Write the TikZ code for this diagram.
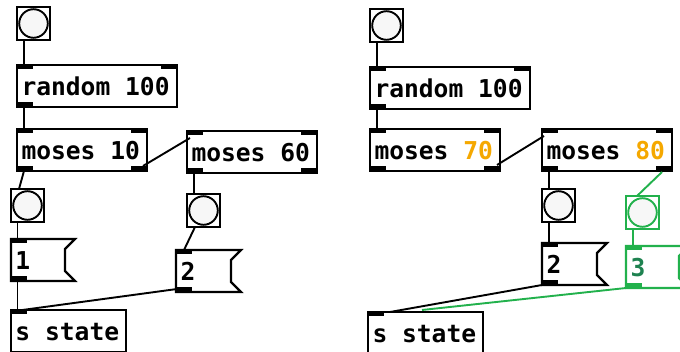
\documentclass[tikz,border=0pt]{standalone}
\usepackage{fontspec}
\newfontfamily\pdfont{DejaVu Sans Mono}
\usetikzlibrary{calc}
\definecolor{pdgreen}{RGB}{34,177,76}
\definecolor{pdorange}{RGB}{245,168,0}
\definecolor{pdteal}{RGB}{30,130,80}
\newcommand\pdsp{\phantom{0}}
\newcommand\pdin[2][black]{\fill[#1] (#2.north west) rectangle ++(16,4.5);}
\newcommand\pdinr[2][black]{\fill[#1] (#2.north east) rectangle ++(-16,4.5);}
\newcommand\pdout[2][black]{\fill[#1] (#2.south west) rectangle ++(16,-4.5);}
\newcommand\pdoutr[2][black]{\fill[#1] (#2.south east) rectangle ++(-16,-4.5);}
\begin{document}
\begin{tikzpicture}[x=1pt,y=-1pt,
  every node/.style={outer sep=0pt},
  pdtext/.style={font=\pdfont\bfseries\fontsize{24.6}{28}\selectfont,
    text height=23pt, text depth=3.5pt, inner xsep=4.5pt, inner ysep=0pt,
    align=left, anchor=north west, minimum height=42pt},
  pdobj/.style={pdtext, draw, line width=2.2pt, fill=white},
  msgbox/.style={pdtext},
  flag/.style={line width=2.2pt, line join=miter},
  conn/.style={line width=1.9pt},
  bang/.style={draw=#1, line width=2.4pt, fill=white, minimum size=33pt,
    inner sep=0pt, anchor=north west,
    path picture={\draw[#1, line width=1.9pt, fill=black!3]
      (path picture bounding box.center) circle[radius=14.3pt];}},
  bang/.default=black]
\useasboundingbox (0,0) rectangle (680,352);
\clip (0,0) rectangle (680,352);

% ---------------- left patch ----------------
\node[bang] (bA) at (17,7) {};
\node[pdobj, text width=151pt] (r1) at (17,65) {random\pdsp100};
\node[pdobj, text width=121pt] (m10) at (17,129) {moses\pdsp10};
\node[pdobj, text width=121pt] (m60) at (187,131) {moses\pdsp60};
\node[bang] (bB) at (11,189) {};
\node[msgbox, text width=55pt] (g1) at (11,239) {1};
\node[bang] (bC) at (187,194) {};
\node[msgbox, text width=56pt] (g2) at (176,250) {2};
\node[pdobj, text width=106pt] (s1) at (11,310) {s\pdsp state};

\draw[flag] (g1.north west) -- (g1.north east) -- ++(-10,10) -- ($(g1.south east)+(-10,-10)$) -- (g1.south east) -- (g1.south west) -- cycle;
\draw[flag] (g2.north west) -- (g2.north east) -- ++(-10,10) -- ($(g2.south east)+(-10,-10)$) -- (g2.south east) -- (g2.south west) -- cycle;

\pdin{r1} \pdinr{r1} \pdout{r1}
\pdin{m10} \pdinr{m10} \pdout{m10} \pdoutr{m10}
\pdin{m60} \pdinr{m60} \pdout{m60} \pdoutr{m60}
\pdin{g1} \pdout{g1}
\pdin{g2} \pdout{g2}
\pdin{s1}

\draw[conn] ($(bA.south west)+(7,0)$) -- ($(r1.north west)+(7,0)$);
\draw[conn] ($(r1.south west)+(7,0)$) -- ($(m10.north west)+(7,0)$);
\draw[conn] ($(m10.south east)+(-4,-5)$) -- ($(m60.north west)+(3,7)$);
\draw[conn] ($(m10.south west)+(7,0)$) -- ($(bB.north west)+(8,0)$);
\draw[conn] ($(bB.south west)+(6.5,0)$) -- ($(g1.north west)+(6.5,0)$);
\draw[conn] ($(g1.south west)+(6.5,0)$) -- ($(s1.north west)+(6.5,0)$);
\draw[conn] ($(m60.south west)+(7,0)$) -- ($(bC.north west)+(7,0)$);
\draw[conn] ($(bC.south west)+(8,0)$) -- ($(g2.north west)+(8,0)$);
\draw[conn] ($(g2.south west)+(1,-3)$) -- ($(s1.north west)+(4,1)$);

% ---------------- right patch ----------------
\node[bang] (bD) at (370,9) {};
\node[pdobj, text width=151pt] (r2) at (370,67) {random\pdsp100};
\node[pdobj, text width=121pt] (m70) at (370,129) {moses\pdsp\textcolor{pdorange}{70}};
\node[pdobj, text width=121pt] (m80) at (542,129) {moses\pdsp\textcolor{pdorange}{80}};
\node[bang] (bE) at (542,189) {};
\node[bang=pdgreen] (bF) at (626,196) {};
\node[msgbox, text width=56pt] (g3) at (542,243) {2};
\node[msgbox, text width=54pt, text=pdteal] (g4) at (626,246) {3};
\node[pdobj, text width=106pt] (s2) at (368,312) {s\pdsp state};

\draw[flag] (g3.north west) -- (g3.north east) -- ++(-10,10) -- ($(g3.south east)+(-10,-10)$) -- (g3.south east) -- (g3.south west) -- cycle;
\draw[flag, pdgreen] (g4.north west) -- (g4.north east) -- ++(-10,10) -- ($(g4.south east)+(-10,-10)$) -- (g4.south east) -- (g4.south west) -- cycle;

\pdin{r2} \pdinr{r2} \pdout{r2}
\pdin{m70} \pdinr{m70} \pdout{m70} \pdoutr{m70}
\pdin{m80} \pdinr{m80} \pdout{m80} \pdoutr{m80}
\pdin{g3} \pdout{g3}
\pdin[pdgreen]{g4} \pdout[pdgreen]{g4}
\pdin{s2}

\draw[conn] ($(bD.south west)+(7,0)$) -- ($(r2.north west)+(7,0)$);
\draw[conn] ($(r2.south west)+(7,0)$) -- ($(m70.north west)+(7,0)$);
\draw[conn] ($(m70.south east)+(-3,-6)$) -- ($(m80.north west)+(2,7)$);
\draw[conn] ($(m80.south west)+(7,0)$) -- ($(bE.north west)+(7,0)$);
\draw[conn, pdgreen] ($(m80.south east)+(-10,1)$) -- ($(bF.north west)+(11,0)$);
\draw[conn] ($(bE.south west)+(7,0)$) -- ($(g3.north west)+(7,0)$);
\draw[conn, pdgreen] ($(bF.south west)+(7,0)$) -- ($(g4.north west)+(7,0)$);
\draw[conn] (g3.south west) -- ($(s2.north west)+(22,0)$);
\draw[conn, pdgreen] (g4.south west) -- ($(s2.north west)+(54,-2)$);
\end{tikzpicture}
\end{document}
